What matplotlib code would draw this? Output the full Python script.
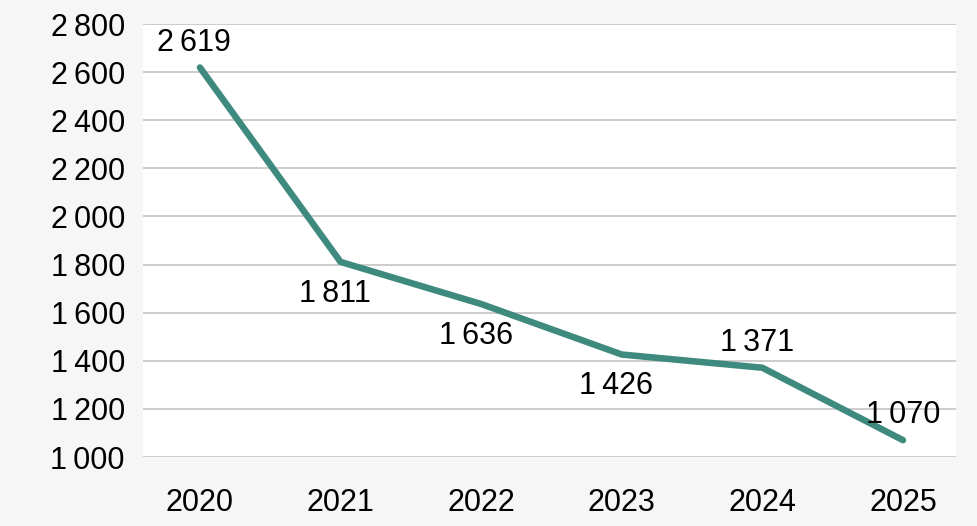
import matplotlib.pyplot as plt

years = ['2020', '2021', '2022', '2023', '2024', '2025']
values = [2619, 1811, 1636, 1426, 1371, 1070]
label_pos = ['above', 'below', 'below', 'below', 'above', 'above']
y_ticks = [1000, 1200, 1400, 1600, 1800, 2000, 2200, 2400, 2600, 2800]


def fmt(v):
    return f'{v:,}'.replace(',', '\u2009')


plt.rcParams['font.family'] = ['Liberation Sans', 'DejaVu Sans']

fig = plt.figure(figsize=(9.78, 5.26), dpi=100, facecolor='#f6f6f6')
ax = fig.add_axes([143 / 978, 1 - 457 / 526, (956 - 143) / 978, (457 - 24) / 526])
ax.set_facecolor('white')

x = list(range(len(years)))
ax.plot(x, values, color='#3f8a7e', linewidth=4.7, solid_capstyle='round',
        solid_joinstyle='round', zorder=3)

for xi, v, pos in zip(x, values, label_pos):
    dy = 18 if pos == 'above' else -23
    dx = -4 if xi < len(x) - 1 else 0
    ax.annotate(fmt(v), (xi, v), xytext=(dx, dy), textcoords='offset points',
                ha='center', va='center', fontsize=22, color='black')

ax.set_xlim(-0.405, 5.377)
ax.set_ylim(1000, 2800)
ax.set_yticks(y_ticks)
ax.set_yticklabels([fmt(t) for t in y_ticks])
ax.set_xticks(x)
ax.set_xticklabels(years)
ax.tick_params(axis='both', length=0, labelsize=22, colors='black')
ax.tick_params(axis='x', pad=22)
ax.tick_params(axis='y', pad=13)
ax.grid(axis='y', color='#c4c4c4', linewidth=1.2)
ax.set_axisbelow(True)
for s in ax.spines.values():
    s.set_visible(False)

fig.savefig('out.png', dpi=100, facecolor=fig.get_facecolor())
